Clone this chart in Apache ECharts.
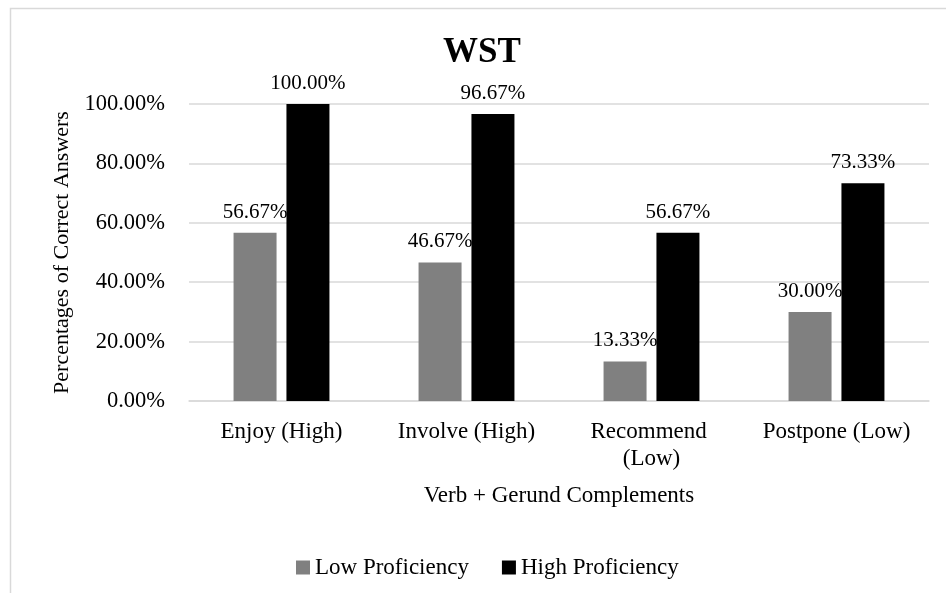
<!DOCTYPE html>
<html>
<head>
<meta charset="utf-8">
<script src="https://cdn.jsdelivr.net/npm/echarts@6/dist/echarts.min.js"></script>
<style>
html,body{margin:0;padding:0;background:#fff;}
#chart{width:946px;height:593px;}
</style>
</head>
<body>
<div id="chart"></div>
<script>
const categories = ['Enjoy (High)', 'Involve (High)', 'Recommend (Low)', 'Postpone (Low)'];
const lowProficiency = [56.67, 46.67, 13.33, 30.00];
const highProficiency = [100.00, 96.67, 56.67, 73.33];
const seriesNames = ['Low Proficiency', 'High Proficiency'];
const yTicks = { min: 0, max: 100, interval: 20 };

const FONT = '"Liberation Serif", "Times New Roman", serif';
const chart = echarts.init(document.getElementById('chart'));
const pct = v => Number(v).toFixed(2) + '%';

chart.setOption({
  animation: false,
  textStyle: { fontFamily: FONT, color: '#000' },
  graphic: [{
    type: 'rect',
    shape: { x: 10.5, y: 8.5, width: 980, height: 640 },
    style: { fill: 'none', stroke: '#d9d9d9', lineWidth: 1.5 },
    silent: true, z: -10
  }],
  title: {
    text: 'WST',
    left: 477,
    top: 30,
    textAlign: 'center',
    textStyle: { fontFamily: FONT, fontSize: 35, fontWeight: 'bold', color: '#000' }
  },
  legend: {
    left: 291,
    top: 551,
    itemWidth: 14,
    itemHeight: 14,
    itemGap: 33,
    icon: 'rect',
    data: seriesNames,
    textStyle: { fontFamily: FONT, fontSize: 23, color: '#000' }
  },
  grid: { left: 189, right: 17, top: 104, bottom: 192, containLabel: false },
  xAxis: {
    type: 'category',
    data: categories,
    name: 'Verb + Gerund Complements',
    nameLocation: 'middle',
    nameGap: 83,
    nameTextStyle: { fontFamily: FONT, fontSize: 23, color: '#000' },
    axisLine: { lineStyle: { color: '#d9d9d9', width: 1.5 } },
    axisTick: { show: false },
    axisLabel: {
      fontFamily: FONT, fontSize: 23, color: '#000', margin: 17,
      width: 160, overflow: 'break', lineHeight: 27, interval: 0
    }
  },
  yAxis: {
    type: 'value',
    min: yTicks.min, max: yTicks.max, interval: yTicks.interval,
    name: 'Percentages of Correct Answers',
    nameLocation: 'middle',
    nameGap: 114,
    nameTextStyle: { fontFamily: FONT, fontSize: 22, color: '#000' },
    axisLine: { show: false },
    axisTick: { show: false },
    splitLine: { lineStyle: { color: '#d9d9d9', width: 1.5 } },
    axisLabel: { fontFamily: FONT, fontSize: 22.5, color: '#000', margin: 24, formatter: pct }
  },
  series: [
    {
      name: seriesNames[0], type: 'bar', data: lowProficiency,
      barWidth: 43, barGap: '23%',
      itemStyle: { color: '#808080' },
      label: { show: true, position: 'top', distance: 10, fontFamily: FONT, fontSize: 21, color: '#000', formatter: p => pct(p.value) }
    },
    {
      name: seriesNames[1], type: 'bar', data: highProficiency,
      barWidth: 43,
      itemStyle: { color: '#000000' },
      label: { show: true, position: 'top', distance: 10, fontFamily: FONT, fontSize: 21, color: '#000', formatter: p => pct(p.value) }
    }
  ]
});
</script>
</body>
</html>
